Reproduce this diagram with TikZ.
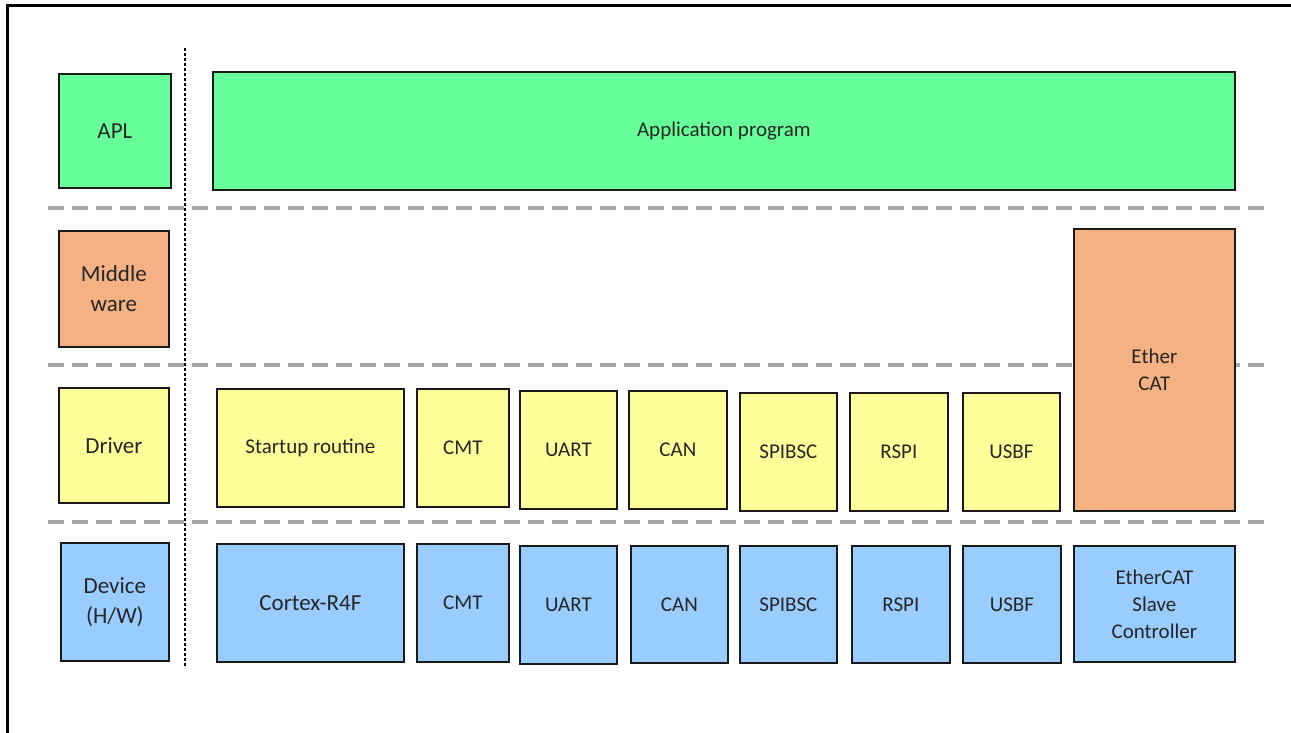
\documentclass[tikz,border=0pt]{standalone}
\usepackage{fontspec}
\setmainfont{Carlito}
\usepackage{xcolor}
\usepackage{tikz}
\usetikzlibrary{positioning}

\definecolor{aplgreen}{HTML}{66FF99}
\definecolor{mworange}{HTML}{F4B183}
\definecolor{drvyellow}{HTML}{FFFF99}
\definecolor{devblue}{HTML}{99CCFF}
\definecolor{sepgray}{HTML}{A6A6A6}
\definecolor{txtgray}{HTML}{262626}

\tikzset{
    blk/.style={draw=black!90, line width=1.8pt, anchor=north west, inner sep=0pt,
        align=center, text=txtgray, font=\fontsize{21}{27}\selectfont},
    lbl/.style={font=\fontsize{23}{30}\selectfont},
    apl/.style={fill=aplgreen},
    mw/.style={fill=mworange},
    drv/.style={fill=drvyellow},
    dev/.style={fill=devblue},
    sep/.style={draw=sepgray, line width=4pt, dash pattern=on 16pt off 8pt},
}

\begin{document}
\begin{tikzpicture}[x=1pt, y=-1pt]
        \useasboundingbox (0,0) rectangle (1291,733);
        \draw[line width=3pt] (7.5,733) -- (7.5,5.5) -- (1291,5.5);

        % layer separators
        \draw[sep] (48,208) -- (1268,208);
        \draw[sep] (48,365) -- (1268,365);
        \draw[sep] (48,521.5) -- (1268,521.5);
        \draw[line width=2pt, dash pattern=on 3pt off 2pt] (185,48) -- (185,668);

        % layer names
        \node[blk, apl, lbl, minimum width=112pt, minimum height=114pt] (napl) at (58,73) {APL};
        \node[blk, mw, lbl, minimum width=110pt, minimum height=116pt]  (nmw)  at (58,230) {Middle\\ware};
        \node[blk, drv, lbl, minimum width=110pt, minimum height=115pt] (ndrv) at (58,387) {Driver};
        \node[blk, dev, lbl, minimum width=108pt, minimum height=118pt] (ndev) at (60,542) {Device\\(H/W)};

        % application and middleware
        \node[blk, apl, minimum width=1022pt, minimum height=118pt] (app) at (212,71) {Application program};
        \node[blk, mw, minimum width=161pt, minimum height=282pt]   (ecat) at (1073,228) {Ether\\CAT};

        % drivers
        \node[blk, drv, minimum width=187pt, minimum height=118pt] (start)  at (216,388) {Startup routine};
        \node[blk, drv, minimum width=92pt, minimum height=118pt]  (dcmt)   at (416,388) {CMT};
        \node[blk, drv, minimum width=97pt, minimum height=118pt]  (duart)  at (519,390) {UART};
        \node[blk, drv, minimum width=98pt, minimum height=118pt]  (dcan)   at (628,390) {CAN};
        \node[blk, drv, minimum width=97pt, minimum height=118pt]  (dspi)   at (739,392) {SPIBSC};
        \node[blk, drv, minimum width=98pt, minimum height=118pt]  (drspi)  at (849,392) {RSPI};
        \node[blk, drv, minimum width=97pt, minimum height=118pt]  (dusbf)  at (962,392) {USBF};

        % devices
        \node[blk, dev, lbl, minimum width=187pt, minimum height=118pt] (cortex) at (216,543) {Cortex-R4F};
        \node[blk, dev, minimum width=92pt, minimum height=118pt]  (hcmt)   at (416,543) {CMT};
        \node[blk, dev, minimum width=97pt, minimum height=118pt]  (huart)  at (519,545) {UART};
        \node[blk, dev, minimum width=97pt, minimum height=117pt]  (hcan)   at (630,545) {CAN};
        \node[blk, dev, minimum width=97pt, minimum height=117pt]  (hspi)   at (739,545) {SPIBSC};
        \node[blk, dev, minimum width=98pt, minimum height=117pt]  (hrspi)  at (851,545) {RSPI};
        \node[blk, dev, minimum width=98pt, minimum height=117pt]  (husbf)  at (962,545) {USBF};
        \node[blk, dev, minimum width=161pt, minimum height=116pt] (hesc)   at (1073,545) {EtherCAT\\Slave\\Controller};
\end{tikzpicture}
\end{document}
